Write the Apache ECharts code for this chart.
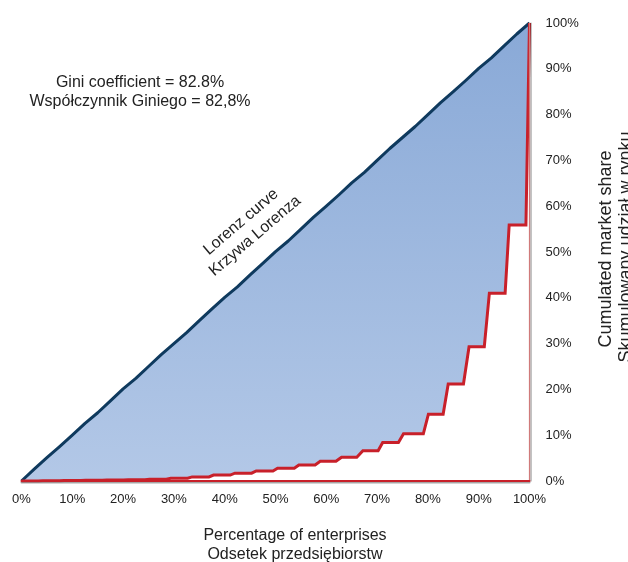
<!DOCTYPE html>
<html>
<head>
<meta charset="utf-8">
<script src="https://cdn.jsdelivr.net/npm/echarts@6/dist/echarts.min.js"></script>
<style>
	html, body { margin: 0; padding: 0; background: #fff; }
	#chart { width: 628px; height: 562px; }
</style>
</head>
<body>
<div id="chart"></div>
<script>
// Lorenz curve (percent of enterprises -> cumulated share)
var lorenzX = [0, 2.5, 5, 7.5, 10, 12.5, 15, 17.5, 20, 22.5, 25, 27.5, 30, 32.5, 35, 37.5, 40, 42.5, 45, 47.5, 50,
	52.5, 55, 57.5, 60, 62.5, 65, 67.5, 70, 72.5, 75, 77.5, 80, 82.5, 85, 87.5, 90, 92.5, 95, 97.5, 100]
var lorenzY = [0, 2.6, 5.1, 7.5, 10.0, 12.6, 14.9, 17.5, 20.1, 22.4, 25.0, 27.6, 30.0, 32.4, 35.0, 37.6, 40.1, 42.4, 45.0, 47.5, 50.1,
	52.4, 55.0, 57.6, 60.0, 62.5, 65.1, 67.4, 70.0, 72.6, 75.0, 77.4, 80.0, 82.6, 85.0, 87.5, 90.1, 92.4, 95.0, 97.6, 100]

// ideal distribution curve: flat steps (from, to, share)
var stepFrom = [0, 4.2, 8.4, 12.6, 16.8, 21.0, 25.2, 29.4, 33.6, 37.8, 42.0, 46.2, 50.4, 54.6, 58.8, 63.0, 67.2, 71.1, 75.2, 80.1, 84.0, 88.1, 92.1, 96.0]
var stepTo = [3.3, 7.5, 11.7, 15.9, 20.1, 24.3, 28.5, 32.7, 36.9, 41.1, 45.3, 49.5, 53.7, 57.8, 61.9, 66.0, 70.2, 74.2, 79.1, 83.0, 87.0, 91.1, 95.2, 99.3]
var stepShare = [0, 0.05, 0.1, 0.15, 0.2, 0.3, 0.4, 0.6, 0.9, 1.3, 1.7, 2.2, 2.8, 3.5, 4.3, 5.2, 6.6, 8.4, 10.3, 14.6, 21.2, 29.3, 41.0, 55.9]
var stepEnd = [100, 100]

var tickLabels = ['0%', '10%', '20%', '30%', '40%', '50%', '60%', '70%', '80%', '90%', '100%']

var FONT = '"Liberation Sans", Arial, sans-serif'
var TXT = '#222'

function _chartGini(id) {
	var dom = document.getElementById(id)
	if (!dom) return
	var lorenz = lorenzX.map(function(x, i) { return [x, lorenzY[i]] })
	var ideal = []
	for (var k = 0; k < stepShare.length; k++) {
		ideal.push([stepFrom[k], stepShare[k]])
		ideal.push([stepTo[k], stepShare[k]])
	}
	ideal.push(stepEnd)

	function txt(s, x, y, rot, size) {
		return {
			type: 'text',
			x: x,
			y: y,
			rotation: rot || 0,
			silent: true,
			style: {
				text: s,
				fill: TXT,
				font: (size || 16) + 'px ' + FONT,
				align: 'center',
				verticalAlign: 'middle',
				textAlign: 'center',
				textVerticalAlign: 'middle'
			}
		}
	}
	var r1 = 40.5 * Math.PI / 180
	var r2 = 37.5 * Math.PI / 180
	var up = Math.PI / 2

	var option = {
		animation: false,
		backgroundColor: '#fff',
		grid: { left: 21.5, right: 98.5, top: 23, bottom: 81 },
		xAxis: {
			type: 'value',
			min: 0,
			max: 100,
			interval: 10,
			z: 10,
			axisLine: {
				onZero: false,
				lineStyle: { color: '#c8202a', width: 2, shadowColor: 'rgba(0,0,0,0.35)', shadowOffsetY: 1.5 }
			},
			axisTick: { show: false },
			splitLine: { show: false },
			axisLabel: {
				margin: 12,
				color: TXT,
				fontSize: 13,
				fontFamily: FONT,
				formatter: function(v) { return tickLabels[v / 10] }
			}
		},
		yAxis: {
			type: 'value',
			position: 'right',
			min: 0,
			max: 100,
			interval: 10,
			z: 10,
			axisLine: {
				show: true,
				onZero: false,
				lineStyle: { color: '#d07a7a', width: 1.2, shadowColor: 'rgba(0,0,0,0.4)', shadowOffsetX: 1.5 }
			},
			axisTick: { show: false },
			splitLine: { show: false },
			axisLabel: {
				margin: 16,
				color: TXT,
				fontSize: 13,
				fontFamily: FONT,
				formatter: function(v) { return tickLabels[v / 10] }
			}
		},
		series: [
			{
				name: 'Lorenz',
				type: 'line',
				data: lorenz,
				symbol: 'none',
				z: 2,
				lineStyle: { color: '#0f3a5e', width: 3, join: 'round' },
				areaStyle: {
					opacity: 1,
					color: new echarts.graphic.LinearGradient(0, 0, 0, 1, [
						{ offset: 0, color: '#89a9d7' },
						{ offset: 1, color: '#b3c8e7' }
					])
				}
			},
			{
				name: 'Ideal',
				type: 'line',
				data: ideal,
				symbol: 'none',
				z: 3,
				lineStyle: { color: '#c8202a', width: 3, join: 'miter' },
				areaStyle: { color: '#ffffff', opacity: 1 }
			}
		],
		graphic: [
			txt('Gini coefficient = 82.8%', 140, 83),
			txt('Współczynnik Giniego = 82,8%', 140, 102),
			txt('Lorenz curve', 241, 222, r1),
			txt('Krzywa Lorenza', 255, 236, r1),
			txt('Ideal distribution curve', 367, 376, r2),
			txt('Krzywa idealnego rozkładu', 379, 391, r2),
			txt('Percentage of enterprises', 295, 536),
			txt('Odsetek przedsiębiorstw', 295, 555),
			txt('Cumulated market share', 606, 249, up, 18),
			txt('Skumulowany udział w rynku', 626, 247, up, 18)
		]
	}
	var myChart = echarts.init(dom)
	myChart.setOption(option)
	return myChart
}

_chartGini('chart')
</script>
</body>
</html>
